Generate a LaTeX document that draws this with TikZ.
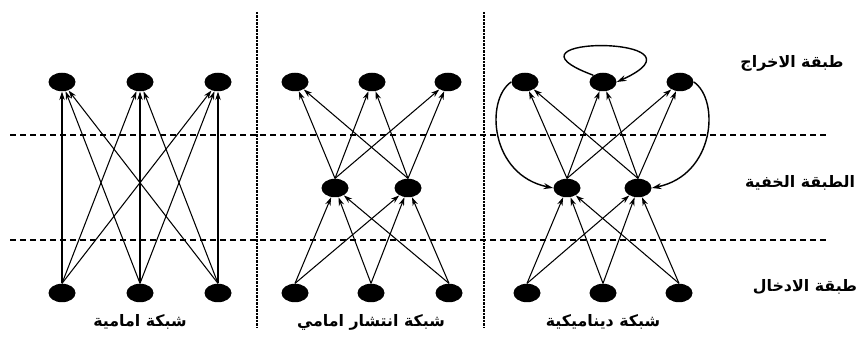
\documentclass[tikz,border=0pt]{standalone}
\usepackage{fontspec}
\newfontfamily\arabicfont[Script=Arabic]{DejaVu Sans}
\TeXXeTstate=1
\usetikzlibrary{arrows.meta,shapes.geometric}

\begin{document}
\begin{tikzpicture}[x=0.2mm,y=-0.2mm,
  nrn/.style={ellipse,fill=black,minimum width=5.4mm,minimum height=3.7mm,inner sep=0pt},
  arr/.style={-{Stealth[length=1.7mm,width=1.1mm]},semithick},
  fb/.style={-{Stealth[length=1.9mm,width=1.2mm]},thick},
  sep/.style={semithick,dash pattern=on 1.2mm off 0.8mm},
  col/.style={semithick,dash pattern=on 0.45mm off 0.25mm},
  lbl/.style={font=\arabicfont\bfseries\small}]
  \useasboundingbox (0,0) rectangle (863,343);
  % layer separators
  \draw[sep] (10,135) -- (828,135);
  \draw[sep] (10,240) -- (828,240);
  \draw[col] (257,12) -- (257,328);
  \draw[col] (484,12) -- (484,328);
  % layer names
  \node[lbl] (n-out) at (792,63) {\beginR طبقة الاخراج\endR};
  \node[lbl] (n-hid) at (800,183) {\beginR الطبقة الخفية\endR};
  \node[lbl] (n-in) at (805,287) {\beginR طبقة الادخال\endR};
  % (a) feed forward, no hidden layer
  \node[nrn] (f-o1) at (62,82) {};
  \node[nrn] (f-o2) at (140,82) {};
  \node[nrn] (f-o3) at (218,82) {};
  \node[nrn] (f-i1) at (62,293) {};
  \node[nrn] (f-i2) at (140,293) {};
  \node[nrn] (f-i3) at (218,293) {};
  \draw[arr] (f-i1.north) -- (f-o1); \draw[arr] (f-i1.north) -- (f-o2); \draw[arr] (f-i1.north) -- (f-o3);
  \draw[arr] (f-i2.north) -- (f-o1); \draw[arr] (f-i2.north) -- (f-o2); \draw[arr] (f-i2.north) -- (f-o3);
  \draw[arr] (f-i3.north) -- (f-o1); \draw[arr] (f-i3.north) -- (f-o2); \draw[arr] (f-i3.north) -- (f-o3);
  \node[lbl] (t-ff) at (140,322) {\beginR شبكة امامية\endR};
  % (b) feed forward with hidden layer
  \node[nrn] (p-o1) at (295,82) {};
  \node[nrn] (p-o2) at (372,82) {};
  \node[nrn] (p-o3) at (448,82) {};
  \node[nrn] (p-h1) at (335,188) {};
  \node[nrn] (p-h2) at (408,188) {};
  \node[nrn] (p-i1) at (295,293) {};
  \node[nrn] (p-i2) at (371,293) {};
  \node[nrn] (p-i3) at (449,293) {};
  \draw[arr] (p-h1.north) -- (p-o1); \draw[arr] (p-h1.north) -- (p-o2); \draw[arr] (p-h1.north) -- (p-o3);
  \draw[arr] (p-h2.north) -- (p-o1); \draw[arr] (p-h2.north) -- (p-o2); \draw[arr] (p-h2.north) -- (p-o3);
  \draw[arr] (p-i1.north) -- (p-h1); \draw[arr] (p-i1.north) -- (p-h2);
  \draw[arr] (p-i2.north) -- (p-h1); \draw[arr] (p-i2.north) -- (p-h2);
  \draw[arr] (p-i3.north) -- (p-h1); \draw[arr] (p-i3.north) -- (p-h2);
  \node[lbl] (t-bp) at (371,322) {\beginR شبكة انتشار امامي\endR};
  % (c) dynamic network with feedback
  \node[nrn] (d-o1) at (525,82) {};
  \node[nrn] (d-o2) at (603,82) {};
  \node[nrn] (d-o3) at (680,82) {};
  \node[nrn] (d-h1) at (567,188) {};
  \node[nrn] (d-h2) at (638,188) {};
  \node[nrn] (d-i1) at (527,293) {};
  \node[nrn] (d-i2) at (603,293) {};
  \node[nrn] (d-i3) at (679,293) {};
  \draw[arr] (d-h1.north) -- (d-o1); \draw[arr] (d-h1.north) -- (d-o2); \draw[arr] (d-h1.north) -- (d-o3);
  \draw[arr] (d-h2.north) -- (d-o1); \draw[arr] (d-h2.north) -- (d-o2); \draw[arr] (d-h2.north) -- (d-o3);
  \draw[arr] (d-i1.north) -- (d-h1); \draw[arr] (d-i1.north) -- (d-h2);
  \draw[arr] (d-i2.north) -- (d-h1); \draw[arr] (d-i2.north) -- (d-h2);
  \draw[arr] (d-i3.north) -- (d-h1); \draw[arr] (d-i3.north) -- (d-h2);
  % feedback loops
  \draw[fb] (d-o2.north west) .. controls (485,35) and (720,35) .. (d-o2.east);
  \draw[fb] (d-o1.west) .. controls (485,100) and (490,175) .. (d-h1.west);
  \draw[fb] (d-o3.east) .. controls (720,100) and (715,175) .. (d-h2.east);
  \node[lbl] (t-dy) at (603,322) {\beginR شبكة ديناميكية\endR};
\end{tikzpicture}
\end{document}
